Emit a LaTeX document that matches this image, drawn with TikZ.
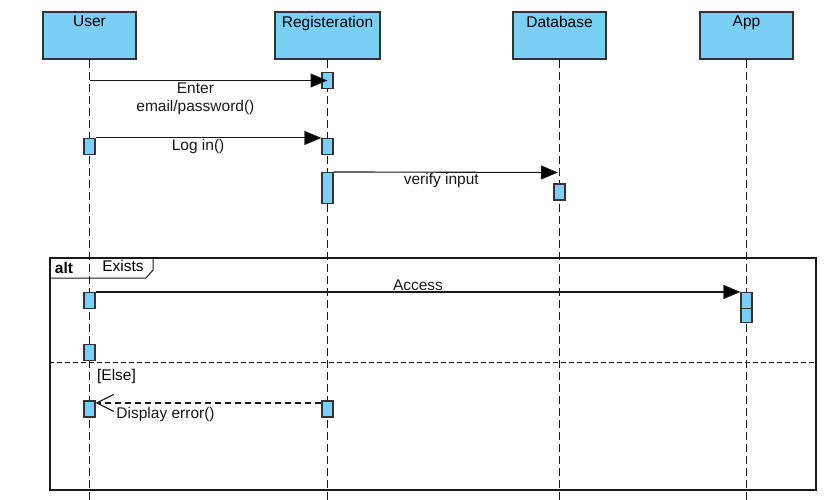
\documentclass[tikz,border=0pt]{standalone}
\usepackage{fontspec}
\setmainfont{Liberation Sans}
\usetikzlibrary{arrows.meta,positioning}
\definecolor{lifeblue}{RGB}{122,207,245}

\begin{document}
\begin{tikzpicture}[
x=1pt, y=-1pt,
font=\fontsize{15.5}{17.5}\selectfont,
head/.style={draw=black!80, line width=1.3pt, fill=lifeblue, minimum width=93pt, minimum height=47pt, inner sep=0pt},
headtxt/.style={anchor=north, inner sep=4.5pt},
act/.style={draw=black!80, line width=1.1pt, fill=lifeblue, minimum width=11pt, minimum height=16pt, inner sep=0pt},
life/.style={black!90, dash pattern=on 8pt off 4pt, line width=1.1pt},
msg/.style={-{Triangle[length=17pt,width=14pt,fill=black]}, line width=1.1pt, black!90},
ret/.style={-{Straight Barb[length=17pt,width=17pt]}, line width=1.1pt, black!90, dash pattern=on 6pt off 4pt},
lbl/.style={inner sep=1pt, align=center},
frame/.style={draw=black!90, line width=1.6pt, minimum width=766pt, minimum height=232pt, inner sep=0pt, anchor=north west}
]
\useasboundingbox (0,0) rectangle (838,500);

% Lifeline heads
\node[head, label={[headtxt]north:User}] (user) at (89.5,35.5) {};
\node[head, minimum width=105pt, label={[headtxt]north:Registeration}] (reg) at (327.5,35.5) {};
\node[head, label={[headtxt]north:Database}] (db) at (559.5,35.5) {};
\node[head, label={[headtxt]north:App}] (app) at (746.5,35.5) {};

% Lifelines
\coordinate (uend) at (89.5,500);
\coordinate (rend) at (327.5,500);
\coordinate (dend) at (559.5,500);
\coordinate (aend) at (746.5,500);
\draw[life] (user.south) -- (uend);
\draw[life] (reg.south) -- (rend);
\draw[life] (db.south) -- (dend);
\draw[life] (app.south) -- (aend);

% alt fragment
\node[frame] (altfr) at (49,257) {};
\draw[black!90, line width=1pt] (altfr.north west) ++(0,21) -- ++(97,0) -- ++(7,-8) -- ++(0,-13);
\node[font=\fontsize{15.5}{17.5}\selectfont\bfseries] (alttag) at (64,267.5) {alt};
\node (exists) at (123,266) {Exists};
\coordinate (elseL) at (49,362.5);
\coordinate (elseR) at (815,362.5);
\draw[black!90, line width=1pt, dash pattern=on 5pt off 3pt] (elseL) -- (elseR);
\node (else) at (116.5,376) {[Else]};

% Activations
\node[act] (ra1) at (327.5,80.5) {};
\node[act] (ua1) at (89.5,146.5) {};
\node[act] (ra2) at (327.5,146.5) {};
\node[act, minimum height=31pt] (ra3) at (327.5,188) {};
\node[act] (da1) at (559.5,192) {};
\node[act] (ua2) at (89.5,300.5) {};
\node[act] (aa1) at (746.5,300.5) {};
\node[act, minimum height=14pt] (aa2) at (746.5,315.5) {};
\node[act] (ua3) at (89.5,352.5) {};
\node[act] (ra4) at (327.5,409) {};
\node[act] (ua4) at (89.5,409) {};

% Messages
\coordinate (m1) at (89.5,80.5);
\draw[msg] (m1) -- node[lbl, below, pos=0.445, yshift=-1pt]{Enter\\email/password()} (ra1.center);

\draw[msg] (ua1.north east) -- node[lbl, below, pos=0.454]{Log in()} (ra2.north west);

\coordinate (m3) at (558,172.5);
\draw[msg] (ra3.north east) -- node[lbl, below, pos=0.48]{verify input} (m3);

\draw[msg] (ua2.north east) -- node[lbl, above, pos=0.5]{Access} (aa1.north west);

\draw[ret] ([yshift=-2.5pt]ra4.north west) -- node[lbl, below, pos=0.69, yshift=-3pt]{Display error()} ([yshift=-2.5pt]ua4.north east);

\end{tikzpicture}
\end{document}
